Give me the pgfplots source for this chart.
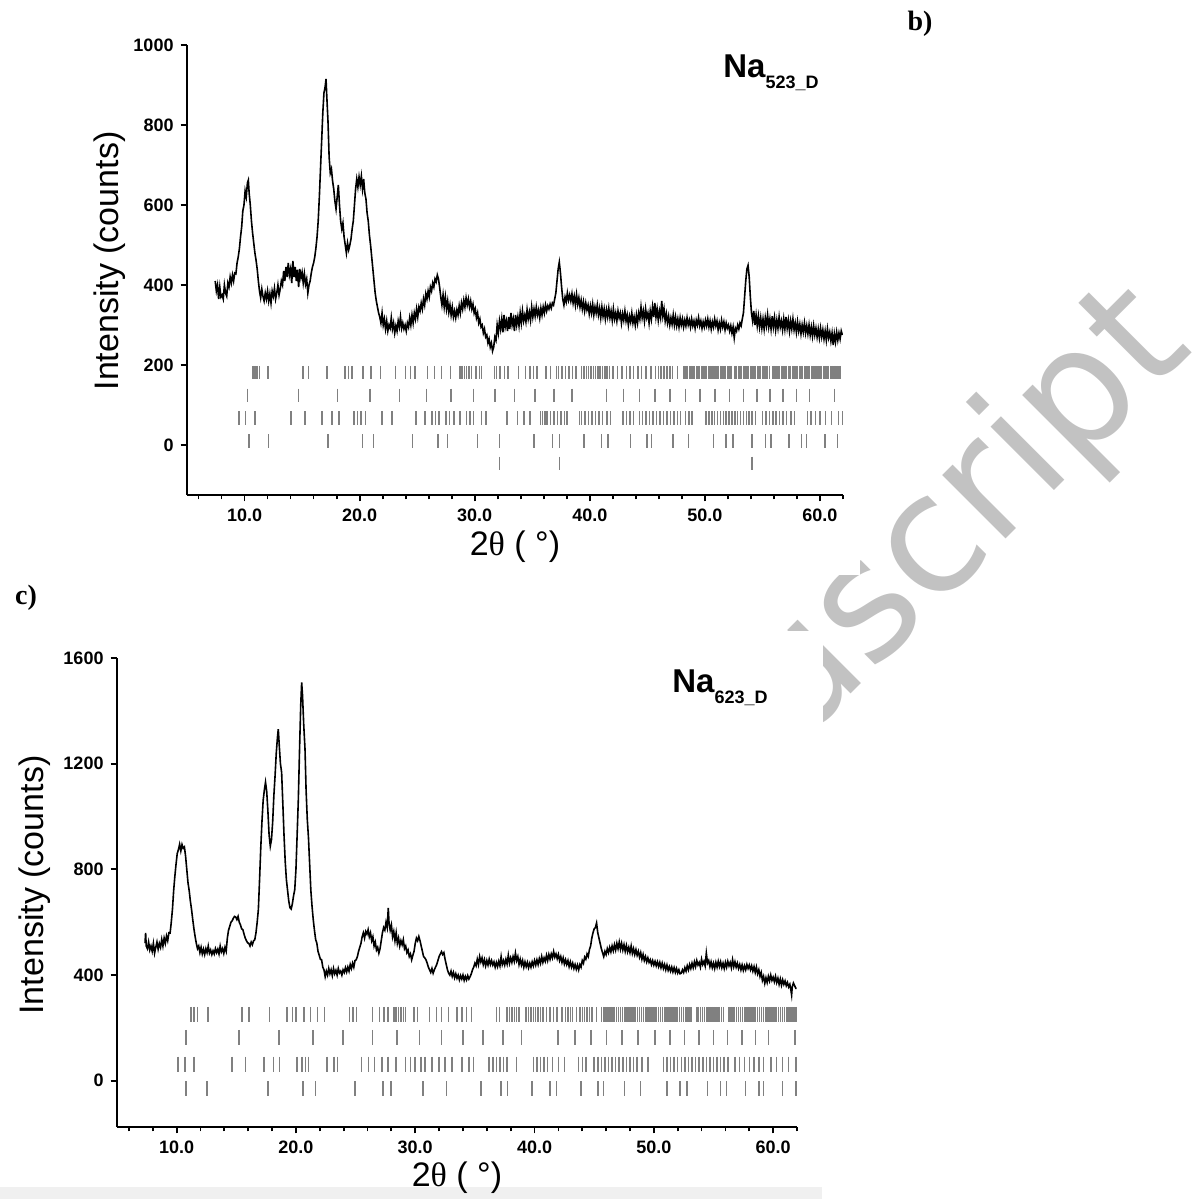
\documentclass[border=0pt]{standalone}
\usepackage{pgfplots}
\pgfplotsset{compat=1.18}
\usepackage{fontspec}
\setmainfont{Liberation Sans}
\newfontfamily\serifb{Liberation Serif}
\newfontfamily\wmfont{DejaVu Sans}
\pgfplotsset{
  xrdaxis/.style={
    scale only axis, anchor=south west,
    xmin=5, xmax=62,
    axis lines=left,
    axis line style={-, line width=1pt},
    every outer x axis line/.append style={-},
    every outer y axis line/.append style={-},
    tick align=outside,
    major tick length=3.2pt, minor tick length=2.2pt,
    every tick/.style={black, line width=0.9pt},
    xtick={10,20,30,40,50,60},
    xticklabels={10.0,20.0,30.0,40.0,50.0,60.0},
    minor xtick={6,8,12,14,16,18,22,24,26,28,32,34,36,38,42,44,46,48,52,54,56,58,62},
    tick label style={font=\bfseries\fontsize{9}{10}\selectfont},
    label style={font=\fontsize{17}{19}\selectfont},
    xlabel={2{\serifb θ} ( °)},
    ylabel={Intensity (counts)},
  },
  curve/.style={black, line width=0.8pt, mark=none},
  refl/.style={only marks, mark=|, color=gray, mark options={gray, line width=0.75pt}},
}
\begin{document}
\begin{tikzpicture}
\useasboundingbox (0,0) rectangle (598pt,-599.5pt);
\begin{scope}[x=0.5pt,y=-0.5pt]
\fill[black!6] (0,1187) rectangle (822,1199);
\begin{scope}
\clip (860,0) -- (1196,0) -- (1196,1199) -- (823,1199) -- (823,630) -- (0,630) -- (0,575) -- (860,575) -- cycle;
\node[rotate=45, anchor=base east, inner sep=0pt, text=black!24, font=\wmfont\fontsize{82}{85}\selectfont] at (1195,350) {uscript};
\end{scope}
\node[font=\serifb\bfseries\fontsize{14}{16}\selectfont] at (920,24) {b)};
\node[font=\serifb\bfseries\fontsize{14}{16}\selectfont] at (26,598) {c)};
\node[anchor=base west, inner sep=0pt, font=\bfseries\fontsize{16.5}{18}\selectfont] at (723,77) {Na\raisebox{-5.5pt}{\fontsize{9}{10}\selectfont 523\_D}};
\node[anchor=base west, inner sep=0pt, font=\bfseries\fontsize{16.5}{18}\selectfont] at (672,692) {Na\raisebox{-5.5pt}{\fontsize{9}{10}\selectfont 623\_D}};
\end{scope}

% ---------------- panel b ----------------
\begin{axis}[xrdaxis,
  at={(93.5pt,-247.5pt)}, width=328pt, height=225pt,
  ymin=-125, ymax=1000,
  ytick={0,200,400,600,800,1000},
  yticklabels={0,200,400,600,800,1000},
  ylabel style={at={(axis description cs:-0.118,0.52)}, anchor=center, rotate=0},
  xlabel style={at={(axis description cs:0.5,-0.115)}, anchor=center},
]
\addplot[curve] coordinates {
(7.45,410)(7.55,385)(7.65,400)(7.75,365)(7.85,395)(7.95,370)(8.05,375)(8.15,365)(8.25,400)(8.35,380)
(8.45,372)(8.55,405)(8.65,395)(8.75,420)(8.85,405)(8.95,425)(9.05,410)(9.15,430)(9.25,428)(9.35,455)
(9.45,470)(9.55,490)(9.65,520)(9.75,545)(9.85,585)(9.95,600)(10.05,635)(10.15,620)(10.25,655)(10.33,662)
(10.4,630)(10.5,600)(10.6,560)(10.7,530)(10.8,505)(10.9,480)(11.0,462)(11.1,440)(11.2,410)(11.3,385)
(11.4,368)(11.5,390)(11.6,372)(11.7,360)(11.8,380)(11.9,365)(12.0,385)(12.1,360)(12.2,378)(12.3,355)
(12.4,385)(12.5,372)(12.6,392)(12.7,365)(12.8,380)(12.9,400)(13.0,375)(13.1,390)(13.2,410)(13.3,400)
(13.4,435)(13.5,410)(13.6,445)(13.7,420)(13.8,455)(13.9,425)(14.0,440)(14.1,405)(14.2,460)(14.3,420)
(14.4,445)(14.5,410)(14.6,438)(14.7,395)(14.8,440)(14.9,418)(15.0,432)(15.1,405)(15.2,428)(15.3,402)
(15.4,415)(15.5,380)(15.6,400)(15.7,410)(15.8,430)(15.9,445)(16.0,455)(16.1,470)(16.2,492)(16.3,520)
(16.4,560)(16.5,620)(16.6,690)(16.7,760)(16.8,830)(16.9,880)(17.0,895)(17.08,915)(17.15,870)(17.25,810)
(17.35,720)(17.45,680)(17.55,690)(17.65,660)(17.75,640)(17.85,610)(17.95,590)(18.05,620)(18.15,650)(18.25,600)
(18.35,560)(18.45,540)(18.55,555)(18.65,520)(18.75,500)(18.85,480)(18.95,505)(19.05,488)(19.15,500)(19.25,515)
(19.35,540)(19.45,560)(19.55,600)(19.65,640)(19.75,665)(19.85,645)(19.95,670)(20.05,650)(20.15,672)(20.25,640)
(20.35,665)(20.45,630)(20.55,615)(20.65,580)(20.75,560)(20.85,525)(20.95,500)(21.05,470)(21.15,440)(21.25,410)
(21.35,380)(21.45,360)(21.55,345)(21.65,330)(21.75,320)(21.85,305)(21.95,330)(22.05,300)(22.15,315)(22.25,290)
(22.35,310)(22.45,285)(22.55,300)(22.65,292)(22.75,318)(22.85,290)(22.95,305)(23.05,280)(23.15,298)(23.25,285)
(23.35,310)(23.45,295)(23.55,320)(23.65,292)(23.75,305)(23.85,290)(23.95,300)(24.05,285)(24.15,305)(24.25,295)
(24.35,318)(24.45,300)(24.55,325)(24.65,305)(24.75,330)(24.85,315)(24.95,340)(25.05,320)(25.15,345)(25.25,335)
(25.35,355)(25.45,340)(25.55,365)(25.65,350)(25.75,378)(25.85,365)(25.95,385)(26.05,370)(26.15,395)(26.25,385)
(26.35,405)(26.45,395)(26.55,415)(26.65,408)(26.75,425)(26.85,415)(26.95,395)(27.05,370)(27.15,350)(27.25,375)
(27.35,345)(27.45,370)(27.55,340)(27.65,360)(27.75,332)(27.85,350)(27.95,325)(28.05,345)(28.15,320)(28.25,335)
(28.35,318)(28.45,338)(28.55,325)(28.65,348)(28.75,330)(28.85,355)(28.95,340)(29.05,362)(29.15,345)(29.25,368)
(29.35,350)(29.45,365)(29.55,345)(29.65,360)(29.75,340)(29.85,352)(29.95,330)(30.05,340)(30.15,318)(30.25,330)
(30.35,305)(30.45,315)(30.55,295)(30.65,300)(30.75,280)(30.85,290)(30.95,270)(31.05,275)(31.15,255)(31.25,265)
(31.35,245)(31.45,255)(31.55,235)(31.65,245)(31.75,270)(31.85,262)(31.95,300)(32.05,280)(32.15,310)(32.25,290)
(32.35,315)(32.45,282)(32.55,325)(32.65,295)(32.75,310)(32.85,285)(32.95,320)(33.05,290)(33.15,330)(33.25,300)
(33.35,315)(33.45,285)(33.55,325)(33.65,300)(33.75,320)(33.85,298)(33.95,330)(34.05,305)(34.15,335)(34.25,310)
(34.35,325)(34.45,308)(34.55,338)(34.65,315)(34.75,332)(34.85,312)(34.95,345)(35.05,320)(35.15,340)(35.25,322)
(35.35,345)(35.45,325)(35.55,338)(35.65,318)(35.75,342)(35.85,325)(35.95,345)(36.05,330)(36.15,350)(36.25,335)
(36.35,348)(36.45,340)(36.55,352)(36.65,342)(36.75,355)(36.85,350)(36.95,365)(37.05,380)(37.15,410)(37.25,440)
(37.35,457)(37.45,430)(37.55,395)(37.65,365)(37.75,350)(37.85,370)(37.95,358)(38.05,380)(38.15,362)(38.25,375)
(38.35,360)(38.45,378)(38.55,355)(38.65,372)(38.75,350)(38.85,376)(38.95,352)(39.05,368)(39.15,345)(39.25,362)
(39.35,340)(39.45,358)(39.55,335)(39.65,355)(39.75,338)(39.85,350)(39.95,328)(40.05,348)(40.15,330)(40.25,352)
(40.35,325)(40.45,345)(40.55,330)(40.65,350)(40.75,325)(40.85,342)(40.95,318)(41.05,345)(41.15,322)(41.25,340)
(41.35,315)(41.45,338)(41.55,320)(41.65,342)(41.75,318)(41.85,335)(41.95,312)(42.05,340)(42.15,315)(42.25,330)
(42.35,310)(42.45,335)(42.55,318)(42.65,330)(42.75,305)(42.85,328)(42.95,312)(43.05,335)(43.15,310)(43.25,325)
(43.35,300)(43.45,322)(43.55,308)(43.65,330)(43.75,305)(43.85,320)(43.95,300)(44.05,325)(44.15,305)(44.25,330)
(44.35,315)(44.45,345)(44.55,318)(44.65,335)(44.75,310)(44.85,340)(44.95,318)(45.05,330)(45.15,305)(45.25,335)
(45.35,315)(45.45,345)(45.55,320)(45.65,355)(45.75,320)(45.85,340)(45.95,312)(46.05,335)(46.15,318)(46.25,360)
(46.35,322)(46.45,340)(46.55,310)(46.65,328)(46.75,305)(46.85,322)(46.95,300)(47.05,318)(47.15,302)(47.25,325)
(47.35,300)(47.45,320)(47.55,298)(47.65,315)(47.75,295)(47.85,318)(47.95,300)(48.05,315)(48.15,295)(48.25,312)
(48.35,298)(48.45,318)(48.55,300)(48.65,312)(48.75,295)(48.85,315)(48.95,298)(49.05,310)(49.15,292)(49.25,312)
(49.35,300)(49.45,318)(49.55,298)(49.65,310)(49.75,292)(49.85,308)(49.95,295)(50.05,312)(50.15,298)(50.25,315)
(50.35,295)(50.45,310)(50.55,290)(50.65,308)(50.75,295)(50.85,315)(50.95,298)(51.05,310)(51.15,288)(51.25,305)
(51.35,290)(51.45,312)(51.55,295)(51.65,308)(51.75,288)(51.85,305)(51.95,292)(52.05,300)(52.15,285)(52.25,298)
(52.35,280)(52.45,295)(52.55,268)(52.65,292)(52.75,285)(52.85,300)(52.95,290)(53.05,305)(53.15,298)(53.25,315)
(53.35,330)(53.45,370)(53.55,410)(53.65,440)(53.75,449)(53.85,420)(53.95,370)(54.05,330)(54.15,310)(54.25,335)
(54.35,300)(54.45,325)(54.55,298)(54.65,322)(54.75,295)(54.85,318)(54.95,292)(55.05,315)(55.15,290)(55.25,318)
(55.35,298)(55.45,325)(55.55,295)(55.65,315)(55.75,290)(55.85,322)(55.95,295)(56.05,318)(56.15,288)(56.25,312)
(56.35,292)(56.45,320)(56.55,295)(56.65,310)(56.75,288)(56.85,315)(56.95,290)(57.05,320)(57.15,292)(57.25,312)
(57.35,285)(57.45,310)(57.55,290)(57.65,315)(57.75,288)(57.85,305)(57.95,282)(58.05,308)(58.15,285)(58.25,302)
(58.35,278)(58.45,300)(58.55,282)(58.65,305)(58.75,280)(58.85,298)(58.95,278)(59.05,300)(59.15,275)(59.25,295)
(59.35,272)(59.45,298)(59.55,275)(59.65,292)(59.75,270)(59.85,290)(59.95,268)(60.05,292)(60.15,270)(60.25,288)
(60.35,265)(60.45,285)(60.55,262)(60.65,290)(60.75,268)(60.85,282)(60.95,260)(61.05,280)(61.15,250)(61.25,278)
(61.35,258)(61.45,282)(61.55,262)(61.65,280)(61.75,265)(61.85,285)(61.95,275)
};
\addplot[refl, mark size=3.4pt] coordinates {
(10.72,181)(10.91,181)(11.09,181)(11.28,181)(12.04,181)(15.06,181)(15.55,181)(17.17,181)(18.72,181)(19.02,181)
(19.32,181)(20.3,181)(21.0,181)(21.8,181)(23.1,181)(24.0,181)(24.4,181)(24.8,181)(25.9,181)(26.5,181)
(27.1,181)(27.9,181)(28.7,181)(28.9,181)(29.1,181)(29.3,181)(29.5,181)(29.7,181)(30.1,181)(30.4,181)
(30.6,181)(31.7,181)(31.9,181)(32.2,181)(32.6,181)(32.9,181)(33.8,181)(34.4,181)(34.8,181)(35.1,181)
(35.4,181)(36.2,181)(36.6,181)(37.1,181)(37.3,181)(37.6,181)(37.9,181)(38.2,181)(38.5,181)(38.8,181)
(39.3,181)(39.5,181)(39.7,181)(39.9,181)(40.1,181)(40.3,181)(40.5,181)(40.7,181)(40.9,181)(41.1,181)
(41.3,181)(41.5,181)(41.7,181)(42.0,181)(42.4,181)(42.8,181)(43.2,181)(43.5,181)(43.8,181)(44.2,181)
(44.5,181)(44.9,181)(45.3,181)(45.7,181)(45.95,181)(46.2,181)(46.45,181)(46.7,181)(46.95,181)(47.2,181)
(47.6,181)(48.2,181)(48.35,181)(48.5,181)(48.65,181)(48.8,181)(48.95,181)(49.1,181)(49.25,181)(49.4,181)
(49.55,181)(49.7,181)(49.85,181)(50.0,181)(50.15,181)(50.3,181)(50.45,181)(50.6,181)(50.75,181)(50.9,181)
(51.05,181)(51.2,181)(51.35,181)(51.5,181)(51.65,181)(51.8,181)(51.95,181)(52.1,181)(52.25,181)(52.6,181)
(52.75,181)(52.9,181)(53.05,181)(53.2,181)(53.35,181)(53.5,181)(53.65,181)(53.8,181)(53.95,181)(54.1,181)
(54.25,181)(54.4,181)(54.55,181)(54.7,181)(54.85,181)(55.0,181)(55.15,181)(55.3,181)(55.45,181)(55.6,181)
(55.9,181)(56.05,181)(56.2,181)(56.35,181)(56.5,181)(56.65,181)(56.8,181)(56.95,181)(57.1,181)(57.25,181)
(57.4,181)(57.6,181)(57.75,181)(57.9,181)(58.05,181)(58.2,181)(58.35,181)(58.5,181)(58.65,181)(58.8,181)
(58.95,181)(59.1,181)(59.25,181)(59.4,181)(59.55,181)(59.7,181)(59.85,181)(60.0,181)(60.15,181)(60.3,181)
(60.45,181)(60.6,181)(60.75,181)(60.9,181)(61.05,181)(61.2,181)(61.35,181)(61.5,181)(61.65,181)(61.8,181)
};
\addplot[refl, mark size=3.4pt] coordinates {
(10.26,124)(14.68,124)(18.08,124)(20.91,124)(23.47,124)(25.81,124)(27.92,124)(29.89,124)(31.77,124)(33.47,124)
(35.25,124)(36.87,124)(38.45,124)(41.47,124)(42.91,124)(44.30,124)(45.66,124)(46.98,124)(48.30,124)(49.58,124)
(50.87,124)(52.15,124)(53.36,124)(54.53,124)(55.66,124)(56.79,124)(57.96,124)(59.09,124)(61.28,124)
};
\addplot[refl, mark size=3.4pt] coordinates {
(9.51,68)(10.08,68)(10.91,68)(14.04,68)(15.25,68)(16.75,68)(17.62,68)(18.19,68)(19.5,68)(19.8,68)
(20.1,68)(20.5,68)(21.96,68)(22.8,68)(24.9,68)(25.7,68)(26.3,68)(26.6,68)(26.9,68)(27.5,68)
(27.8,68)(28.2,68)(28.7,68)(29.3,68)(29.6,68)(29.9,68)(30.6,68)(31.0,68)(32.8,68)(33.7,68)
(34.3,68)(34.8,68)(35.7,68)(35.9,68)(36.1,68)(36.3,68)(36.6,68)(36.9,68)(37.2,68)(37.5,68)
(37.8,68)(38.0,68)(39.1,68)(39.3,68)(39.6,68)(39.9,68)(40.2,68)(40.5,68)(40.8,68)(41.1,68)
(41.5,68)(41.8,68)(42.9,68)(43.2,68)(43.5,68)(43.8,68)(44.3,68)(44.6,68)(44.9,68)(45.2,68)
(45.5,68)(45.8,68)(46.1,68)(46.4,68)(46.7,68)(47.0,68)(47.3,68)(47.6,68)(47.9,68)(48.3,68)
(48.6,68)(48.9,68)(50.1,68)(50.35,68)(50.6,68)(50.85,68)(51.1,68)(51.35,68)(51.6,68)(51.85,68)
(52.1,68)(52.35,68)(52.6,68)(52.85,68)(53.1,68)(53.35,68)(53.6,68)(53.85,68)(54.1,68)(54.4,68)
(55.0,68)(55.3,68)(55.6,68)(55.9,68)(56.2,68)(56.5,68)(56.8,68)(57.1,68)(57.5,68)(57.8,68)
(58.9,68)(59.2,68)(59.6,68)(60.0,68)(60.5,68)(61.0,68)(61.6,68)(61.95,68)
};
\addplot[refl, mark size=3.4pt] coordinates {
(10.38,10)(12.08,10)(17.25,10)(20.26,10)(21.21,10)(24.6,10)(26.79,10)(27.62,10)(30.26,10)(32.15,10)
(35.17,10)(36.75,10)(37.36,10)(39.51,10)(41.02,10)(41.58,10)(43.55,10)(44.98,10)(45.36,10)(47.25,10)
(48.57,10)(50.75,10)(51.85,10)(52.45,10)(54.11,10)(55.25,10)(55.74,10)(57.32,10)(58.38,10)(58.83,10)
(60.45,10)(61.51,10)
};
\addplot[refl, mark size=3.4pt] coordinates {(32.15,-46)(37.36,-46)(54.11,-46)};
\end{axis}

% ---------------- panel c ----------------
\begin{axis}[xrdaxis,
  at={(58.5pt,-563.5pt)}, width=340pt, height=234.5pt,
  ymin=-175, ymax=1600,
  ytick={0,400,800,1200,1600},
  yticklabels={0,400,800,1200,1600},
  ylabel style={at={(axis description cs:-0.121,0.516)}, anchor=center, rotate=0},
  xlabel style={at={(axis description cs:0.5,-0.109)}, anchor=center},
]
\addplot[curve] coordinates {
(7.35,521)(7.4,560)(7.45,510)(7.55,500)(7.65,525)(7.75,495)(7.85,510)(7.95,490)(8.05,520)(8.15,483)
(8.25,505)(8.35,525)(8.45,498)(8.55,520)(8.65,505)(8.75,535)(8.85,510)(8.95,540)(9.05,520)(9.15,548)
(9.25,530)(9.35,560)(9.45,559)(9.55,600)(9.65,650)(9.75,720)(9.85,774)(9.95,820)(10.05,860)(10.15,875)
(10.25,895)(10.35,870)(10.45,894)(10.55,880)(10.65,885)(10.75,850)(10.85,800)(10.95,750)(11.05,720)(11.15,680)
(11.25,648)(11.35,610)(11.45,575)(11.55,545)(11.65,520)(11.75,500)(11.85,510)(11.95,485)(12.05,505)(12.15,480)
(12.25,498)(12.35,478)(12.45,500)(12.55,485)(12.65,510)(12.75,483)(12.85,495)(12.95,478)(13.05,492)(13.15,480)
(13.25,500)(13.35,485)(13.45,498)(13.55,480)(13.65,510)(13.75,488)(13.85,500)(13.95,482)(14.05,505)(14.15,490)
(14.25,540)(14.35,570)(14.45,584)(14.55,600)(14.65,605)(14.75,615)(14.85,622)(14.95,620)(15.05,610)(15.15,622)
(15.25,600)(15.35,590)(15.45,575)(15.55,572)(15.65,555)(15.75,540)(15.85,530)(15.95,522)(16.05,520)(16.15,510)
(16.25,525)(16.35,515)(16.45,530)(16.55,534)(16.65,560)(16.75,600)(16.85,648)(16.95,760)(17.05,880)(17.15,980)
(17.25,1060)(17.35,1100)(17.45,1130)(17.55,1095)(17.65,1020)(17.75,930)(17.85,888)(17.95,913)(18.05,980)(18.15,1080)
(18.25,1154)(18.35,1240)(18.45,1300)(18.52,1331)(18.6,1270)(18.7,1200)(18.8,1167)(18.9,1050)(19.0,930)(19.1,830)
(19.2,761)(19.3,720)(19.4,680)(19.5,655)(19.6,650)(19.7,670)(19.8,700)(19.9,723)(20.0,800)(20.1,930)
(20.2,1065)(20.3,1250)(20.4,1420)(20.48,1508)(20.55,1460)(20.65,1350)(20.76,1255)(20.85,1100)(20.95,990)(21.05,920)
(21.15,820)(21.25,720)(21.35,660)(21.45,610)(21.55,570)(21.65,535)(21.75,521)(21.85,490)(21.95,475)(22.05,460)
(22.15,458)(22.25,430)(22.35,420)(22.45,394)(22.55,415)(22.65,400)(22.75,425)(22.85,405)(22.95,420)(23.05,398)
(23.15,425)(23.25,405)(23.35,418)(23.45,400)(23.55,425)(23.65,408)(23.75,415)(23.85,400)(23.95,420)(24.05,410)
(24.15,428)(24.25,412)(24.35,430)(24.45,415)(24.55,440)(24.65,425)(24.75,445)(24.85,430)(24.95,455)(25.05,458)
(25.15,470)(25.25,490)(25.35,505)(25.45,520)(25.55,545)(25.65,560)(25.75,540)(25.85,565)(25.95,555)(26.05,572)
(26.15,545)(26.25,560)(26.35,530)(26.45,545)(26.55,510)(26.65,525)(26.75,495)(26.85,505)(26.95,483)(27.05,500)
(27.15,530)(27.25,560)(27.35,580)(27.45,570)(27.55,600)(27.65,580)(27.74,654)(27.8,600)(27.9,570)(28.0,590)
(28.1,545)(28.2,565)(28.3,530)(28.4,560)(28.5,520)(28.6,540)(28.7,510)(28.8,530)(28.9,515)(29.0,534)
(29.1,500)(29.2,510)(29.3,485)(29.4,495)(29.5,470)(29.6,480)(29.7,458)(29.8,475)(29.9,490)(30.0,520)
(30.1,540)(30.2,530)(30.3,546)(30.4,530)(30.5,510)(30.6,490)(30.7,470)(30.8,465)(30.9,458)(31.0,445)
(31.1,430)(31.2,420)(31.3,410)(31.4,425)(31.5,407)(31.6,420)(31.7,430)(31.8,440)(31.9,455)(32.0,470)
(32.1,480)(32.2,489)(32.3,478)(32.4,485)(32.5,460)(32.6,440)(32.7,420)(32.8,407)(32.9,400)(33.0,415)
(33.1,395)(33.2,410)(33.3,390)(33.4,405)(33.5,388)(33.6,400)(33.7,382)(33.8,398)(33.9,385)(34.0,400)
(34.1,380)(34.2,395)(34.3,382)(34.4,398)(34.5,385)(34.6,394)(34.7,405)(34.8,420)(34.9,430)(35.0,445)
(35.1,435)(35.2,460)(35.3,440)(35.4,470)(35.5,450)(35.6,465)(35.7,440)(35.8,458)(35.9,435)(36.0,455)
(36.1,438)(36.2,460)(36.3,440)(36.4,455)(36.5,438)(36.6,450)(36.7,430)(36.8,448)(36.9,432)(37.0,452)
(37.1,435)(37.2,470)(37.3,440)(37.4,455)(37.5,438)(37.6,460)(37.7,442)(37.8,475)(37.9,445)(38.0,465)
(38.1,448)(38.2,470)(38.3,452)(38.4,483)(38.5,455)(38.6,470)(38.7,440)(38.8,460)(38.9,438)(39.0,455)
(39.1,430)(39.2,450)(39.3,432)(39.4,448)(39.5,428)(39.6,445)(39.7,430)(39.8,450)(39.9,435)(40.0,455)
(40.1,438)(40.2,458)(40.3,440)(40.4,462)(40.5,445)(40.6,470)(40.7,448)(40.8,465)(40.9,452)(41.0,475)
(41.1,455)(41.2,478)(41.3,460)(41.4,480)(41.5,465)(41.6,489)(41.7,468)(41.8,480)(41.9,462)(42.0,478)
(42.1,455)(42.2,470)(42.3,448)(42.4,465)(42.5,442)(42.6,458)(42.7,440)(42.8,455)(42.9,432)(43.0,450)
(43.1,430)(43.2,445)(43.3,425)(43.4,440)(43.5,422)(43.6,438)(43.7,420)(43.8,440)(43.9,430)(44.0,455)
(44.1,445)(44.2,468)(44.3,460)(44.4,480)(44.5,470)(44.6,496)(44.7,510)(44.8,540)(44.9,560)(45.0,575)
(45.1,580)(45.2,597)(45.3,560)(45.4,540)(45.5,520)(45.6,500)(45.7,485)(45.8,470)(45.9,490)(46.0,478)
(46.1,500)(46.2,485)(46.3,505)(46.4,488)(46.5,510)(46.6,492)(46.7,515)(46.8,495)(46.9,520)(47.0,500)
(47.1,525)(47.2,498)(47.3,520)(47.4,495)(47.5,515)(47.6,490)(47.7,512)(47.8,488)(47.9,505)(48.0,485)
(48.1,510)(48.2,482)(48.3,500)(48.4,478)(48.5,496)(48.6,475)(48.7,490)(48.8,468)(48.9,485)(49.0,460)
(49.1,478)(49.2,455)(49.3,470)(49.4,450)(49.5,465)(49.6,448)(49.7,458)(49.8,440)(49.9,455)(50.0,438)
(50.1,452)(50.2,435)(50.3,450)(50.4,432)(50.5,448)(50.6,428)(50.7,445)(50.8,425)(50.9,440)(51.0,420)
(51.1,438)(51.2,418)(51.3,432)(51.4,415)(51.5,430)(51.6,412)(51.7,428)(51.8,410)(51.9,425)(52.0,408)
(52.1,420)(52.2,405)(52.3,407)(52.4,420)(52.5,410)(52.6,428)(52.7,415)(52.8,435)(52.9,420)(53.0,440)
(53.1,425)(53.2,445)(53.3,428)(53.4,450)(53.5,432)(53.6,455)(53.7,438)(53.8,448)(53.9,430)(54.0,460)
(54.1,440)(54.2,452)(54.3,435)(54.4,483)(54.5,445)(54.6,455)(54.7,432)(54.8,450)(54.9,428)(55.0,445)
(55.1,425)(55.2,448)(55.3,430)(55.4,452)(55.5,432)(55.6,450)(55.7,428)(55.8,445)(55.9,425)(56.0,448)
(56.1,430)(56.2,452)(56.3,435)(56.4,448)(56.5,428)(56.6,458)(56.7,432)(56.8,450)(56.9,430)(57.0,445)
(57.1,425)(57.2,440)(57.3,420)(57.4,438)(57.5,418)(57.6,435)(57.7,420)(57.8,440)(57.9,425)(58.0,438)
(58.1,420)(58.2,435)(58.3,415)(58.4,432)(58.5,410)(58.6,430)(58.7,405)(58.8,420)(58.9,395)(59.0,410)
(59.1,380)(59.2,395)(59.3,369)(59.4,390)(59.5,372)(59.6,395)(59.7,378)(59.8,400)(59.9,380)(60.0,392)
(60.1,375)(60.2,395)(60.3,372)(60.4,388)(60.5,365)(60.6,385)(60.7,362)(60.8,382)(60.9,365)(61.0,378)
(61.1,360)(61.2,372)(61.3,355)(61.4,365)(61.5,340)(61.55,325)(61.6,355)(61.7,370)(61.8,360)(61.9,350)
(61.97,350)
};
\addplot[refl, mark size=3.75pt] coordinates {
(11.19,251)(11.46,251)(11.73,251)(12.61,251)(15.49,251)(16.06,251)(17.79,251)(19.25,251)(19.71,251)(20.02,251)
(20.67,251)(21.24,251)(21.82,251)(22.39,251)(24.5,251)(24.77,251)(25.08,251)(26.4,251)(27.0,251)(27.4,251)
(27.7,251)(28.2,251)(28.4,251)(28.6,251)(28.8,251)(29.0,251)(29.2,251)(29.9,251)(30.2,251)(31.2,251)
(31.8,251)(32.2,251)(32.8,251)(33.5,251)(33.9,251)(34.3,251)(34.7,251)(36.8,251)(37.05,251)(37.7,251)
(37.9,251)(38.1,251)(38.3,251)(38.5,251)(38.7,251)(39.3,251)(39.5,251)(39.7,251)(39.9,251)(40.1,251)
(40.3,251)(40.5,251)(40.7,251)(41.0,251)(41.3,251)(41.6,251)(41.9,251)(42.3,251)(42.6,251)(42.8,251)
(43.0,251)(43.2,251)(43.5,251)(43.8,251)(44.0,251)(44.2,251)(44.4,251)(44.6,251)(44.8,251)(45.2,251)
(45.6,251)(45.76,251)(45.92,251)(46.08,251)(46.24,251)(46.4,251)(46.56,251)(46.72,251)(46.88,251)(47.04,251)
(47.2,251)(47.36,251)(47.52,251)(47.68,251)(47.84,251)(48.0,251)(48.16,251)(48.32,251)(48.48,251)(48.64,251)
(48.8,251)(48.96,251)(49.12,251)(49.28,251)(49.44,251)(49.6,251)(49.76,251)(49.92,251)(50.08,251)(50.24,251)
(50.4,251)(50.56,251)(50.72,251)(50.88,251)(51.04,251)(51.2,251)(51.36,251)(51.52,251)(51.68,251)(51.84,251)
(52.0,251)(52.16,251)(52.32,251)(52.48,251)(52.64,251)(52.8,251)(52.96,251)(53.12,251)(53.6,251)(53.76,251)
(53.92,251)(54.08,251)(54.24,251)(54.4,251)(54.56,251)(54.72,251)(54.88,251)(55.04,251)(55.2,251)(55.36,251)
(55.52,251)(55.68,251)(55.84,251)(56.3,251)(56.46,251)(56.62,251)(56.78,251)(56.94,251)(57.1,251)(57.26,251)
(57.42,251)(57.58,251)(57.74,251)(57.9,251)(58.06,251)(58.22,251)(58.38,251)(58.54,251)(58.7,251)(58.86,251)
(59.02,251)(59.18,251)(59.34,251)(59.5,251)(59.66,251)(59.82,251)(59.98,251)(60.14,251)(60.3,251)(60.46,251)
(60.62,251)(60.78,251)(60.94,251)(61.1,251)(61.26,251)(61.42,251)(61.58,251)(61.74,251)(61.9,251)
};
\addplot[refl, mark size=3.75pt] coordinates {
(10.77,164)(15.22,164)(18.56,164)(21.44,164)(23.93,164)(26.42,164)(28.46,164)(30.34,164)(32.18,164)(34.02,164)
(35.67,164)(37.36,164)(38.89,164)(41.96,164)(43.38,164)(44.72,164)(46.02,164)(47.34,164)(48.68,164)(50.1,164)
(51.36,164)(52.59,164)(53.78,164)(55.01,164)(56.16,164)(57.39,164)(58.54,164)(59.61,164)(61.84,164)
};
\addplot[refl, mark size=3.75pt] coordinates {
(10.12,63)(10.69,63)(11.46,63)(14.64,63)(15.79,63)(17.33,63)(18.1,63)(18.63,63)(20.1,63)(20.5,63)
(20.8,63)(21.05,63)(22.6,63)(23.2,63)(23.5,63)(25.5,63)(26.1,63)(26.6,63)(27.2,63)(27.7,63)
(28.4,63)(29.2,63)(29.6,63)(30.0,63)(30.5,63)(30.8,63)(31.4,63)(32.0,63)(32.5,63)(33.1,63)
(33.9,63)(34.5,63)(34.9,63)(36.2,63)(36.5,63)(36.8,63)(37.1,63)(37.4,63)(37.7,63)(38.5,63)
(39.9,63)(40.2,63)(40.5,63)(40.8,63)(41.1,63)(41.5,63)(42.0,63)(42.5,63)(43.7,63)(44.0,63)
(44.3,63)(45.0,63)(45.3,63)(45.6,63)(45.9,63)(46.2,63)(46.5,63)(46.8,63)(47.1,63)(47.4,63)
(47.7,63)(48.0,63)(48.3,63)(48.6,63)(49.0,63)(49.5,63)(50.8,63)(51.1,63)(51.4,63)(51.7,63)
(52.0,63)(52.3,63)(52.6,63)(52.9,63)(53.2,63)(53.5,63)(53.8,63)(54.1,63)(54.4,63)(54.7,63)
(55.0,63)(55.3,63)(55.6,63)(55.9,63)(56.2,63)(56.8,63)(57.2,63)(57.6,63)(58.0,63)(58.4,63)
(58.8,63)(59.2,63)(59.8,63)(60.3,63)(60.8,63)(61.3,63)(61.9,63)
};
\addplot[refl, mark size=3.75pt] coordinates {
(10.77,-30)(12.53,-30)(17.67,-30)(20.59,-30)(21.63,-30)(24.97,-30)(27.3,-30)(27.96,-30)(30.64,-30)(32.64,-30)
(35.52,-30)(37.17,-30)(37.74,-30)(39.78,-30)(41.31,-30)(41.85,-30)(43.88,-30)(45.34,-30)(45.8,-30)(47.53,-30)
(48.87,-30)(51.1,-30)(52.2,-30)(52.8,-30)(54.5,-30)(55.6,-30)(56.1,-30)(57.7,-30)(58.8,-30)(59.2,-30)
(60.8,-30)(61.9,-30)
};
\end{axis}
\end{tikzpicture}
\end{document}
